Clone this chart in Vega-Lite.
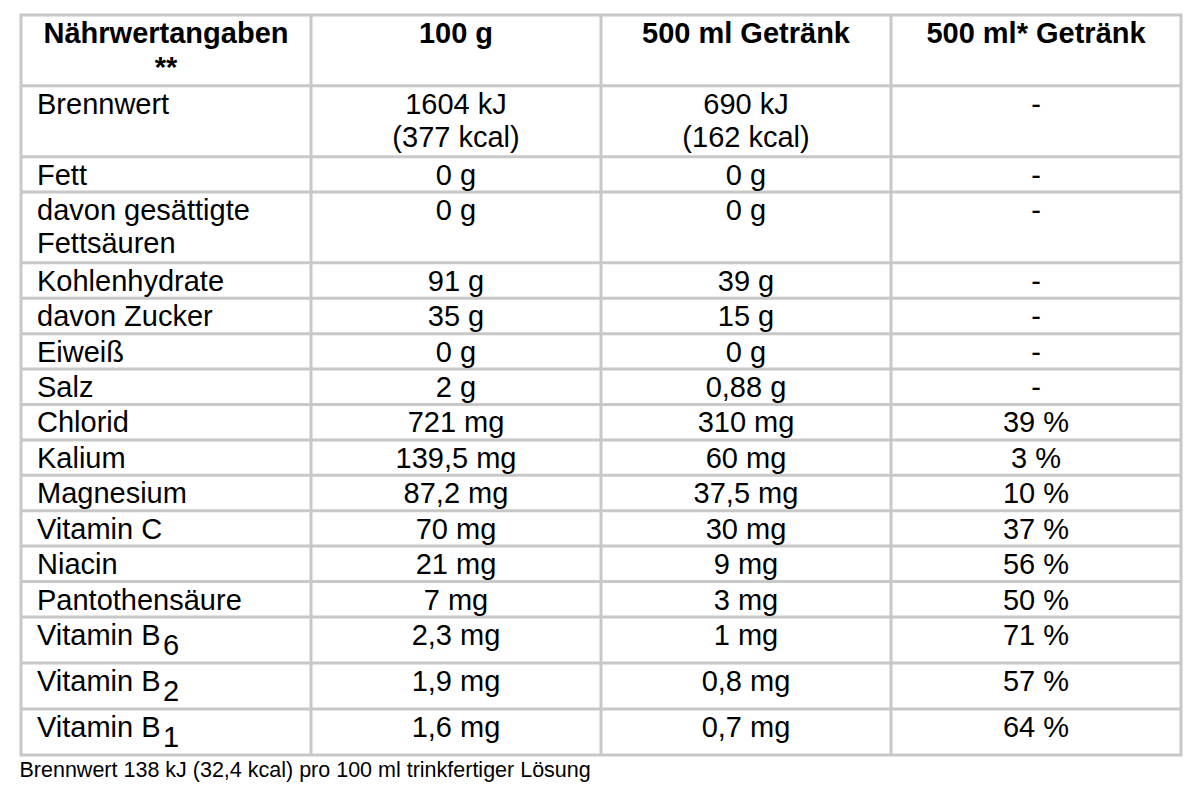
{
  "$schema": "https://vega.github.io/schema/vega-lite/v6.json",
  "autosize": "none",
  "width": 1160,
  "height": 740,
  "padding": {"left": 21, "top": 15, "right": 19, "bottom": 37},
  "background": "white",
  "config": {
    "view": {"stroke": "#c8c8c8", "strokeWidth": 3},
    "text": {"font": "Liberation Sans", "fontSize": 29, "color": "#000000"}
  },
  "title": {
    "text": "Brennwert 138 kJ (32,4 kcal) pro 100 ml trinkfertiger Lösung",
    "orient": "bottom",
    "anchor": "start",
    "font": "Liberation Sans",
    "fontSize": 21.5,
    "fontWeight": "normal",
    "color": "#000000",
    "baseline": "alphabetic",
    "offset": 20
  },
  "data": {
    "values": [
      {"row": 0, "lines": 2, "label": "Nährwertangaben\n**", "g100": "100 g", "ml500": "500 ml Getränk", "pct": "500 ml* Getränk"},
      {"row": 1, "lines": 2, "label": "Brennwert", "g100": "1604 kJ\n(377 kcal)", "ml500": "690 kJ\n(162 kcal)", "pct": "-"},
      {"row": 2, "lines": 1, "label": "Fett", "g100": "0 g", "ml500": "0 g", "pct": "-"},
      {"row": 3, "lines": 2, "label": "davon gesättigte\nFettsäuren", "g100": "0 g", "ml500": "0 g", "pct": "-"},
      {"row": 4, "lines": 1, "label": "Kohlenhydrate", "g100": "91 g", "ml500": "39 g", "pct": "-"},
      {"row": 5, "lines": 1, "label": "davon Zucker", "g100": "35 g", "ml500": "15 g", "pct": "-"},
      {"row": 6, "lines": 1, "label": "Eiweiß", "g100": "0 g", "ml500": "0 g", "pct": "-"},
      {"row": 7, "lines": 1, "label": "Salz", "g100": "2 g", "ml500": "0,88 g", "pct": "-"},
      {"row": 8, "lines": 1, "label": "Chlorid", "g100": "721 mg", "ml500": "310 mg", "pct": "39 %"},
      {"row": 9, "lines": 1, "label": "Kalium", "g100": "139,5 mg", "ml500": "60 mg", "pct": "3 %"},
      {"row": 10, "lines": 1, "label": "Magnesium", "g100": "87,2 mg", "ml500": "37,5 mg", "pct": "10 %"},
      {"row": 11, "lines": 1, "label": "Vitamin C", "g100": "70 mg", "ml500": "30 mg", "pct": "37 %"},
      {"row": 12, "lines": 1, "label": "Niacin", "g100": "21 mg", "ml500": "9 mg", "pct": "56 %"},
      {"row": 13, "lines": 1, "label": "Pantothensäure", "g100": "7 mg", "ml500": "3 mg", "pct": "50 %"},
      {"row": 14, "lines": 1.3, "label": "Vitamin B", "sub": "6", "g100": "2,3 mg", "ml500": "1 mg", "pct": "71 %"},
      {"row": 15, "lines": 1.3, "label": "Vitamin B", "sub": "2", "g100": "1,9 mg", "ml500": "0,8 mg", "pct": "57 %"},
      {"row": 16, "lines": 1.3, "label": "Vitamin B", "sub": "1", "g100": "1,6 mg", "ml500": "0,7 mg", "pct": "64 %"}
    ]
  },
  "transform": [
    {"stack": "lines", "groupby": [], "sort": [{"field": "row", "order": "ascending"}], "as": ["y0", "y1"]},
    {"fold": ["label", "g100", "ml500", "pct"], "as": ["col", "text"]}
  ],
  "encoding": {
    "x": {
      "field": "col",
      "type": "nominal",
      "scale": {"domain": ["label", "g100", "ml500", "pct"], "paddingInner": 0, "paddingOuter": 0},
      "axis": null
    },
    "y": {
      "field": "y0",
      "type": "quantitative",
      "scale": {"domain": [0, 20.9], "reverse": true, "nice": false, "zero": false},
      "axis": null
    }
  },
  "layer": [
    {
      "transform": [{"filter": "datum.row > 0 && datum.col == 'label'"}],
      "mark": {"type": "rule", "color": "#c8c8c8", "strokeWidth": 3},
      "encoding": {
        "x": null
      }
    },
    {
      "transform": [{"filter": "datum.row == 0 && datum.col != 'label'"}],
      "mark": {"type": "rule", "color": "#c8c8c8", "strokeWidth": 3},
      "encoding": {
        "x": {"field": "col", "type": "nominal", "bandPosition": 0},
        "y": null
      }
    },
    {
      "transform": [{"filter": "datum.row == 0"}],
      "mark": {"type": "text", "align": "center", "baseline": "alphabetic", "fontWeight": "bold", "dy": 28, "lineBreak": "\n", "lineHeight": 34},
      "encoding": {"text": {"field": "text"}}
    },
    {
      "transform": [{"filter": "datum.row > 0 && datum.col == 'label'"}],
      "mark": {"type": "text", "align": "left", "baseline": "alphabetic", "dx": 16, "dy": 28, "lineBreak": "\n", "lineHeight": 33},
      "encoding": {
        "x": {"field": "col", "type": "nominal", "bandPosition": 0},
        "text": {"field": "text"}
      }
    },
    {
      "transform": [{"filter": "datum.row > 0 && datum.col != 'label'"}],
      "mark": {"type": "text", "align": "center", "baseline": "alphabetic", "dy": 28, "lineBreak": "\n", "lineHeight": 33},
      "encoding": {"text": {"field": "text"}}
    },
    {
      "transform": [{"filter": "datum.col == 'label' && isValid(datum.sub)"}],
      "mark": {"type": "text", "align": "left", "baseline": "alphabetic", "dx": 142, "dy": 38},
      "encoding": {
        "x": {"field": "col", "type": "nominal", "bandPosition": 0},
        "text": {"field": "sub"}
      }
    }
  ]
}
